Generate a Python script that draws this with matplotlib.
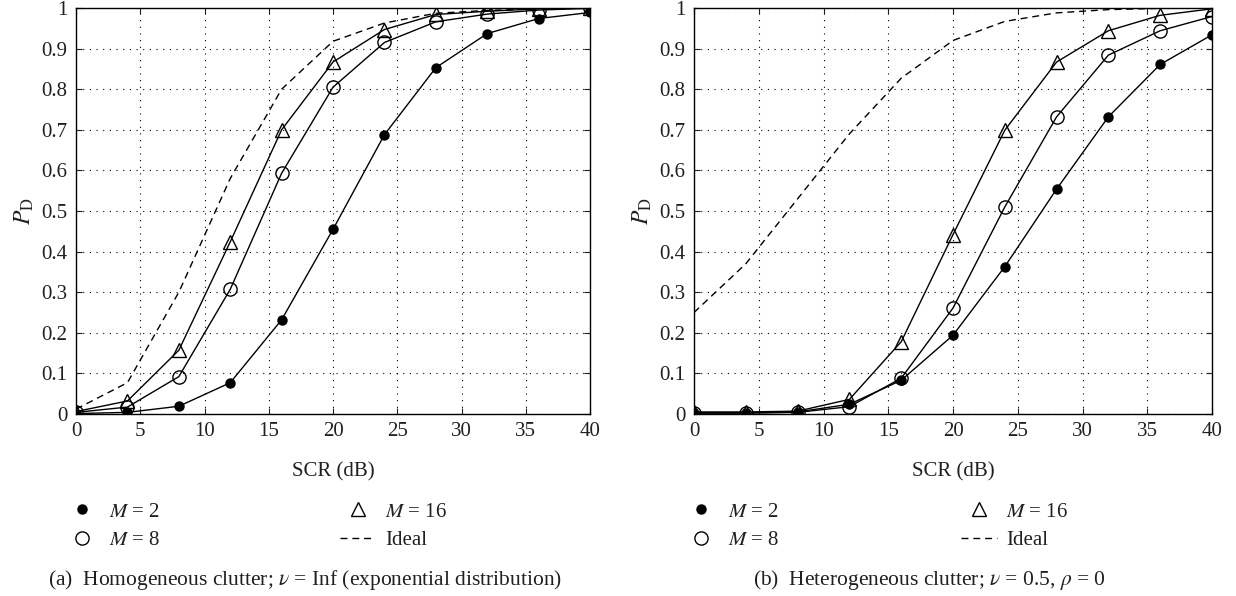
import numpy as np
import matplotlib
matplotlib.use('agg')
import matplotlib.pyplot as plt
from matplotlib.lines import Line2D

# SCR (dB) sample points, same for every curve
scr = [0, 4, 8, 12, 16, 20, 24, 28, 32, 36, 40]

# (a) homogeneous clutter
m2_a = [0.001, 0.004, 0.019, 0.077, 0.232, 0.455, 0.688, 0.853, 0.937, 0.974, 0.989]
m8_a = [0.004, 0.017, 0.092, 0.307, 0.593, 0.805, 0.915, 0.966, 0.985, 0.995, 0.999]
m16_a = [0.006, 0.032, 0.157, 0.424, 0.700, 0.867, 0.947, 0.984, 0.992, 0.998, 1.0]
ideal_a = [0.012, 0.077, 0.30, 0.58, 0.80, 0.918, 0.963, 0.987, 0.994, 0.998, 1.0]

# (b) heterogeneous clutter
m2_b = [0.003, 0.003, 0.005, 0.024, 0.083, 0.194, 0.363, 0.554, 0.732, 0.861, 0.934]
m8_b = [0.002, 0.002, 0.004, 0.018, 0.088, 0.261, 0.510, 0.732, 0.884, 0.944, 0.979]
m16_b = [0.005, 0.005, 0.007, 0.036, 0.178, 0.442, 0.699, 0.867, 0.944, 0.982, 0.998]
ideal_b = [0.25, 0.37, 0.53, 0.69, 0.827, 0.92, 0.967, 0.988, 0.996, 0.999, 1.0]

xticks = [0, 5, 10, 15, 20, 25, 30, 35, 40]
yticks = [0, 0.1, 0.2, 0.3, 0.4, 0.5, 0.6, 0.7, 0.8, 0.9, 1]
ytick_labels = ['0', '0.1', '0.2', '0.3', '0.4', '0.5', '0.6', '0.7', '0.8', '0.9', '1']

captions = [r'(a)  Homogeneous clutter; $\nu$ = Inf (exponential distribution)',
            r'(b)  Heterogeneous clutter; $\nu$ = 0.5, $\rho$ = 0']

TXT = '#231f20'
plt.rcParams['font.family'] = 'serif'
plt.rcParams['font.serif'] = ['Liberation Serif', 'DejaVu Serif']
plt.rcParams['mathtext.fontset'] = 'stix'
plt.rcParams['text.color'] = TXT
plt.rcParams['axes.labelcolor'] = TXT
plt.rcParams['xtick.color'] = TXT
plt.rcParams['ytick.color'] = TXT

fig = plt.figure(figsize=(12.36, 5.96), dpi=100)
ax_a = fig.add_axes([0.0615, 0.3054, 0.4159, 0.6812])
ax_b = fig.add_axes([0.5615, 0.3054, 0.4191, 0.6812])


def draw_panel(ax, m2, m8, m16, ideal):
    ax.plot(scr, ideal, color='k', lw=1.0, ls=(0, (5, 3.5)))
    ax.plot(scr, m16, color='k', lw=1.0, marker='^', ms=10, mfc='none', mec='k', mew=1.0)
    ax.plot(scr, m8, color='k', lw=1.0, marker='o', ms=9.5, mfc='none', mec='k', mew=1.0)
    ax.plot(scr, m2, color='k', lw=1.0, marker='o', ms=6.5, mfc='k', mec='k')
    ax.set_xlim(0, 40)
    ax.set_ylim(0, 1)
    ax.set_xticks(xticks)
    ax.set_yticks(yticks)
    ax.set_yticklabels(ytick_labels)
    ax.tick_params(direction='in', top=True, right=True, length=4, width=0.8,
                   labelsize=15, pad=6)
    ax.grid(True, color='k', ls=(0, (1, 5)), lw=0.8)
    for s in ax.spines.values():
        s.set_linewidth(1.0)
    ax.set_xlabel('SCR (dB)', fontsize=15, labelpad=15)
    ax.set_ylabel(r'$P_\mathrm{D}$', fontsize=17, labelpad=4)


draw_panel(ax_a, m2_a, m8_a, m16_a, ideal_a)
draw_panel(ax_b, m2_b, m8_b, m16_b, ideal_b)

h_m2 = Line2D([], [], ls='none', marker='o', ms=6.5, mfc='k', mec='k')
h_m8 = Line2D([], [], ls='none', marker='o', ms=9.5, mfc='none', mec='k')
h_m16 = Line2D([], [], ls='none', marker='^', ms=10, mfc='none', mec='k')
h_id = Line2D([], [], color='k', lw=1.0, ls=(0, (5, 3.5)))

leg_kw = dict(loc='center left', bbox_transform=fig.transFigure, frameon=False,
              borderpad=0, borderaxespad=0, handlelength=1.7, handletextpad=0.45,
              labelspacing=0.42, fontsize=15)
for x1, x2, xc, cap in [(0.0522, 0.2751, 0.247, captions[0]),
                        (0.5527, 0.7779, 0.752, captions[1])]:
    fig.legend([h_m2, h_m8], [r'$M$ = 2', r'$M$ = 8'], bbox_to_anchor=(x1, 0.1174), **leg_kw)
    fig.legend([h_m16, h_id], [r'$M$ = 16', 'Ideal'], bbox_to_anchor=(x2, 0.1174), **leg_kw)
    fig.text(xc, 0.027, cap, ha='center', va='center', fontsize=15.5)

fig.savefig('out.png', dpi=100)
